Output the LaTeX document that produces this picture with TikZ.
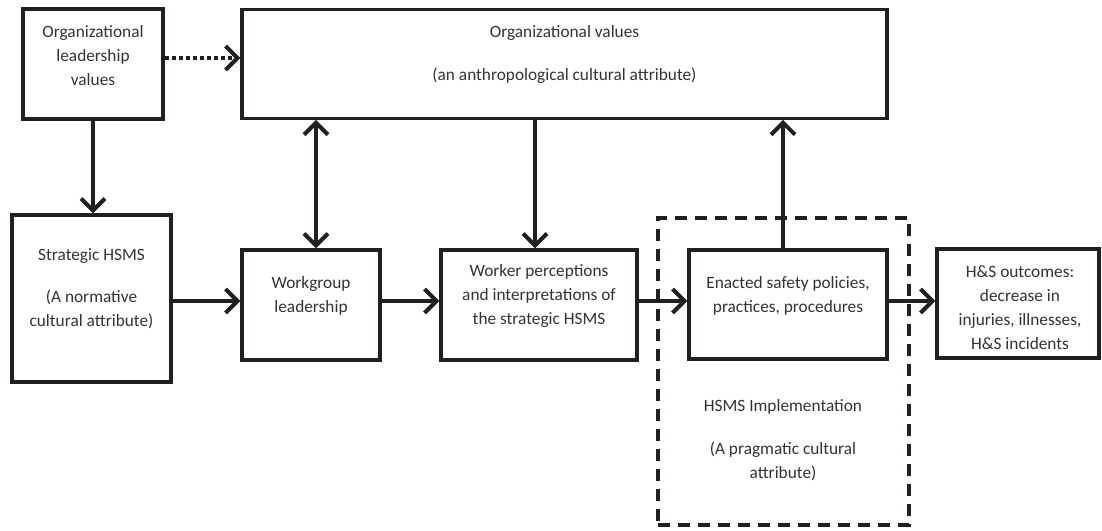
\documentclass[tikz,border=0pt]{standalone}
\usepackage{fontspec}
\setmainfont{Carlito}
\usetikzlibrary{arrows.meta}
\definecolor{ink}{HTML}{231F20}
\definecolor{txt}{HTML}{333333}
\begin{document}
\begin{tikzpicture}[x=1pt,y=-1pt,
  box/.style={draw=ink, line width=3.3pt, inner sep=0pt, rectangle},
  lbl/.style={text=txt, align=center, inner sep=0pt, font=\fontsize{17.3}{24}\selectfont},
  tip/.style={},
  arr/.style={draw=ink, line width=4pt, -{Straight Barb[length=12pt,width=24pt,line width=4pt]}},
  biarr/.style={draw=ink, line width=4pt, {Straight Barb[length=12pt,width=24pt,line width=4pt]}-{Straight Barb[length=12pt,width=24pt,line width=4pt]}},
  dotarr/.style={draw=ink, line width=4pt, dash pattern=on 4pt off 3pt, -{Straight Barb[length=12pt,width=24pt,line width=4pt]}},
  dashbox/.style={draw=ink, line width=3.3pt, dash pattern=on 12pt off 8pt, inner sep=0pt, rectangle}]
\useasboundingbox[fill=white] (0,0) rectangle (1102,530);

% boxes
\node[box, minimum width=140pt, minimum height=110pt] (olv) at (93,64) {};
\node[box, minimum width=645pt, minimum height=109pt] (ov) at (564.5,63.7) {};
\node[box, minimum width=159pt, minimum height=167pt] (strat) at (91.5,298.5) {};
\node[box, minimum width=138pt, minimum height=110pt] (wg) at (311,305) {};
\node[box, minimum width=196pt, minimum height=110pt] (wk) at (539,305) {};
\node[box, minimum width=198pt, minimum height=109pt] (en) at (788,304.5) {};
\node[box, minimum width=162pt, minimum height=109pt] (hs) at (1018,303.5) {};
\node[dashbox, minimum width=251pt, minimum height=307pt] (impl) at (783.5,371.5) {};

% texts
\node[lbl] (olvt) at (93,56) {Organizational\\leadership\\values};
\node[lbl] (ovt) at (564.5,54.5) {Organizational values\\[19pt](an anthropological cultural attribute)};
\node[lbl] (stratt) at (91.5,289) {Strategic HSMS\\[18pt](A normative\\cultural attribute)};
\node[lbl] (wgt) at (311,296) {Workgroup\\leadership};
\node[lbl] (wkt) at (539,296) {Worker perceptions\\and interpretations of\\the strategic HSMS};
\node[lbl] (ent) at (788,295.5) {Enacted safety policies,\\practices, procedures};
\node[lbl] (hst) at (1020,307.5) {H\&S outcomes:\\decrease in\\injuries, illnesses,\\H\&S incidents};
\node[lbl] (implt) at (783,440.5) {HSMS Implementation\\[19pt](A pragmatic cultural\\attribute)};

% helper coordinates
\coordinate (row) at (0,301);
\coordinate (xa) at (316,0);
\coordinate (xb) at (535,0);
\coordinate (xc) at (783,0);

% connectors
\draw[dotarr] (olv.east |- 0,58) -- (ov.west |- 0,58);
\draw[arr] (olv.south) -- (strat.north -| olv.south);
\draw[biarr] (ov.south -| xa) -- (wg.north -| xa);
\draw[arr] (ov.south -| xb) -- (wk.north -| xb);
\draw[arr] (en.north -| xc) -- (ov.south -| xc);
\draw[arr] (strat.east |- row) -- (wg.west |- row);
\draw[arr] (wg.east |- row) -- (wk.west |- row);
\draw[arr] (wk.east |- row) -- (en.west |- row);
\draw[arr] (en.east |- row) -- (hs.west |- row);
\end{tikzpicture}
\end{document}
